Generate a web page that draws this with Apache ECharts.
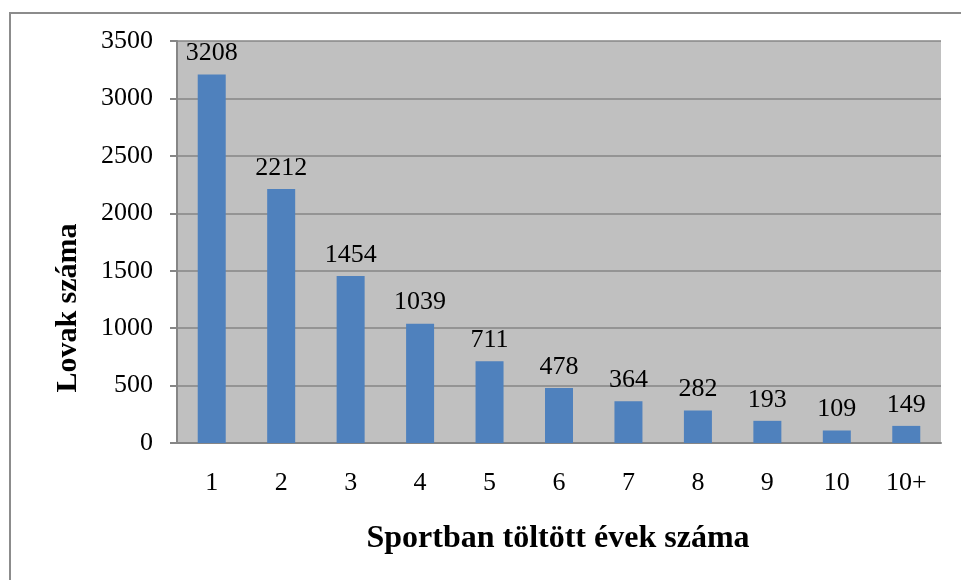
<!DOCTYPE html>
<html>
<head>
<meta charset="utf-8">
<script src="https://cdn.jsdelivr.net/npm/echarts@6/dist/echarts.min.js"></script>
<style>
html,body{margin:0;padding:0;background:#fff;}
#chart{width:961px;height:580px;}
</style>
</head>
<body>
<div id="chart"></div>
<script>
const categories = ['1','2','3','4','5','6','7','8','9','10','10+'];
const horses = [3208, 2212, 1454, 1039, 711, 478, 364, 282, 193, 109, 149];
const yTicks = [0, 500, 1000, 1500, 2000, 2500, 3000, 3500];
const xTitle = 'Sportban töltött évek száma';
const yTitle = 'Lovak száma';

const font = '"Liberation Serif", "Times New Roman", serif';
const chart = echarts.init(document.getElementById('chart'), null, {renderer: 'canvas'});
chart.setOption({
  animation: false,
  backgroundColor: '#ffffff',
  graphic: [
    {type: 'rect', shape: {x: 10, y: 13, width: 1000, height: 1000},
     style: {fill: 'none', stroke: '#8c8c8c', lineWidth: 2}, z: -1},
    {type: 'text', x: 558, y: 539, style: {
      text: xTitle, font: 'bold 32px ' + font, fill: '#000',
      textAlign: 'center', textVerticalAlign: 'middle'}},
    {type: 'text', x: 68, y: 308, rotation: Math.PI / 2, style: {
      text: yTitle, font: 'bold 30px ' + font, fill: '#000',
      textAlign: 'center', textVerticalAlign: 'middle'}}
  ],
  grid: {left: 177, right: 20, top: 41, bottom: 137, show: true,
         backgroundColor: '#c0c0c0', borderWidth: 0, containLabel: false},
  xAxis: {
    type: 'category', data: categories,
    axisLine: {show: true, lineStyle: {color: '#868686', width: 2}},
    axisTick: {show: false},
    axisLabel: {color: '#000', fontFamily: font, fontSize: 26, margin: 27}
  },
  yAxis: {
    type: 'value', min: yTicks[0], max: yTicks[yTicks.length - 1], interval: 500,
    axisLine: {show: true, lineStyle: {color: '#868686', width: 2}},
    axisTick: {show: true, length: 7, lineStyle: {color: '#868686', width: 2}},
    splitLine: {show: true, lineStyle: {color: '#868686', width: 1.5}},
    axisLabel: {color: '#000', fontFamily: font, fontSize: 26, margin: 24,
                formatter: function (v) { return String(v); }}
  },
  series: [{
    type: 'bar', data: horses, barWidth: 28,
    itemStyle: {color: '#4f81bd'},
    label: {show: true, position: 'top', distance: 8, color: '#000',
            fontFamily: font, fontSize: 26}
  }]
});
</script>
</body>
</html>
